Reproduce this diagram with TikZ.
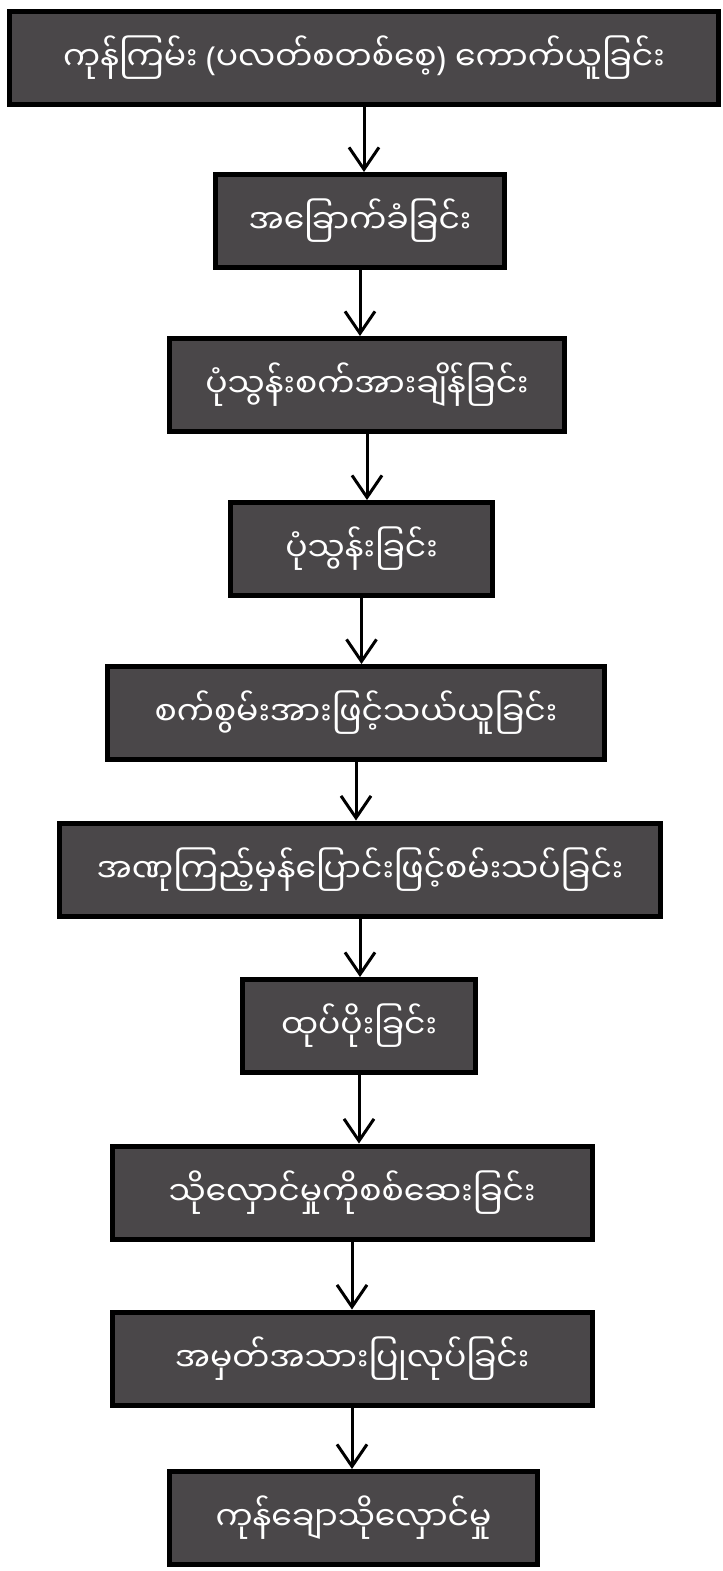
\documentclass[tikz,border=0pt]{standalone}
\usepackage{fontspec}
\newfontfamily\mmfont[Script=Myanmar]{Noto Sans Myanmar UI}
\newfontfamily\parfont{Noto Sans}
\usetikzlibrary{arrows.meta}
\definecolor{boxgrey}{HTML}{4A4749}
\newcommand\lpar{{\parfont(}}
\newcommand\rpar{{\parfont)}}
\tikzset{
  stage/.style={draw=black, line width=2.5pt, fill=boxgrey, text=white,
    minimum height=46.5pt, inner sep=0pt, font=\mmfont\fontsize{16.5}{18}\selectfont},
  flow/.style={line width=1.5pt, -{Straight Barb[length=11pt,width=15pt,line width=1.5pt]}}
}
\begin{document}
\begin{tikzpicture}[x=0.5pt,y=-0.5pt]
\useasboundingbox (0,0) rectangle (723,1571);
% steps, top to bottom
\node[stage, minimum width=354.5pt] (raw) at (364,58) {ကုန်ကြမ်း \lpar ပလတ်စတစ်စေ့\rpar{} ကောက်ယူခြင်း};
\node[stage, minimum width=144.5pt] (dry) at (360,221) {အခြောက်ခံခြင်း};
\node[stage, minimum width=197.5pt] (setup) at (367,385) {ပုံသွန်းစက်အားချိန်ခြင်း};
\node[stage, minimum width=131pt] (mould) at (361.5,549) {ပုံသွန်းခြင်း};
\node[stage, minimum width=248.5pt] (convey) at (356,713) {စက်စွမ်းအားဖြင့်သယ်ယူခြင်း};
\node[stage, minimum width=300.5pt] (scope) at (360,869.5) {အဏုကြည့်မှန်ပြောင်းဖြင့်စမ်းသပ်ခြင်း};
\node[stage, minimum width=116.5pt] (pack) at (359,1026) {ထုပ်ပိုးခြင်း};
\node[stage, minimum width=240pt] (check) at (352,1192.5) {သိုလှောင်မှုကိုစစ်ဆေးခြင်း};
\node[stage, minimum width=240pt] (label) at (352,1358.5) {အမှတ်အသားပြုလုပ်ခြင်း};
\node[stage, minimum width=184pt] (store) at (353.5,1518) {ကုန်ချောသိုလှောင်မှု};

% arrows
\foreach \a/\b in {raw/dry, dry/setup, setup/mould, mould/convey, convey/scope,
  scope/pack, pack/check, check/label, label/store}
  \draw[flow] (\a.south) -- (\a.south |- \b.north);
\end{tikzpicture}
\end{document}
